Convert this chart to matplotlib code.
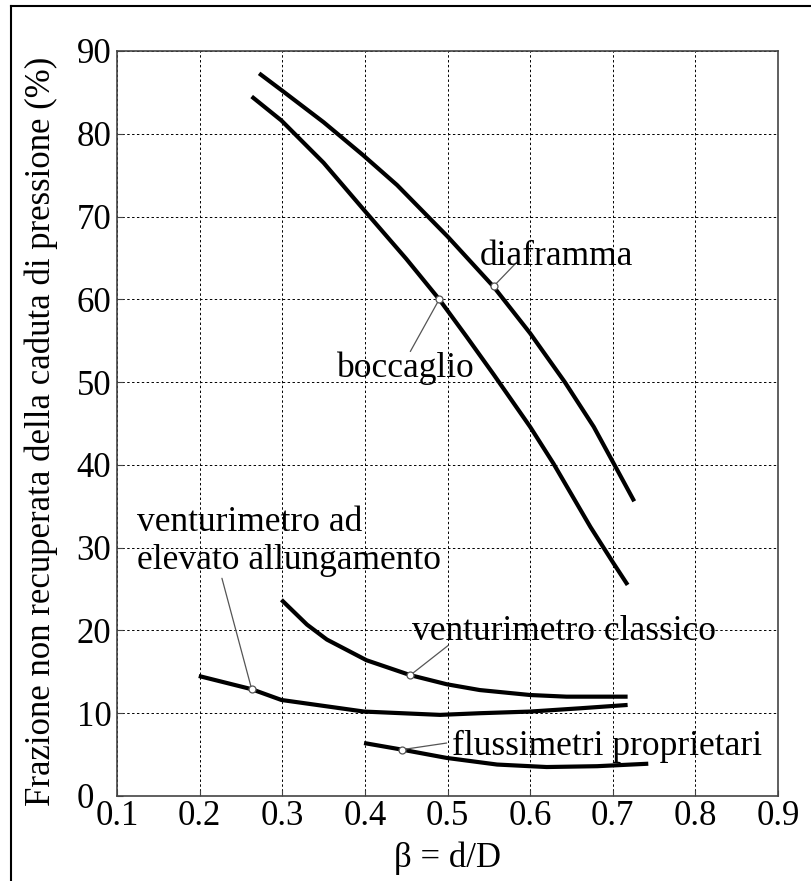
import matplotlib.pyplot as plt
from matplotlib.lines import Line2D

plt.rcParams['font.family'] = ['Liberation Serif', 'DejaVu Serif']

# Curves
diaframma_x = [0.272, 0.300, 0.350, 0.398, 0.439, 0.500, 0.556, 0.600, 0.642, 0.677, 0.701, 0.726]
diaframma_y = [87.3, 85.2, 81.4, 77.4, 73.8, 67.6, 61.5, 55.9, 50.0, 44.6, 40.2, 35.6]

boccaglio_x = [0.263, 0.299, 0.350, 0.398, 0.450, 0.490, 0.523, 0.556, 0.600, 0.628, 0.673, 0.701, 0.718]
boccaglio_y = [84.5, 81.6, 76.5, 70.9, 64.9, 60.0, 55.5, 50.9, 44.6, 40.2, 32.5, 28.1, 25.5]

classico_x = [0.299, 0.330, 0.354, 0.402, 0.455, 0.499, 0.539, 0.600, 0.644, 0.718]
classico_y = [23.7, 20.7, 18.9, 16.4, 14.6, 13.5, 12.8, 12.2, 12.0, 12.0]

allung_x = [0.199, 0.263, 0.299, 0.399, 0.491, 0.539, 0.600, 0.661, 0.718]
allung_y = [14.5, 12.9, 11.6, 10.2, 9.8, 10.0, 10.2, 10.6, 11.0]

fluss_x = [0.399, 0.445, 0.499, 0.560, 0.620, 0.681, 0.743]
fluss_y = [6.4, 5.6, 4.6, 3.8, 3.5, 3.6, 3.9]

x_ticks = [0.1, 0.2, 0.3, 0.4, 0.5, 0.6, 0.7, 0.8, 0.9]
y_ticks = [0, 10, 20, 30, 40, 50, 60, 70, 80, 90]

# labels: text, text anchor (left, baseline), point on curve, end of leader
labels = ["diaframma", "boccaglio", "venturimetro ad\nelevato allungamento",
          "venturimetro classico", "flussimetri proprietari"]
label_pos = [(0.5395, 64.1), (0.366, 50.6), (0.1242, 27.4), (0.4567, 18.8), (0.505, 4.95)]
mark_pts = [(0.556, 61.6), (0.490, 60.0), (0.263, 12.9), (0.455, 14.6), (0.445, 5.6)]
leader_end = [(0.584, 64.5), (0.455, 53.7), (0.227, 26.3), (0.501, 18.2), (0.499, 6.4)]

fig = plt.figure(figsize=(8.11, 8.81), dpi=100)
ax = fig.add_axes([117 / 811, 1 - 796 / 881, 661 / 811, 745 / 881])

# outer frame (only left and top edges visible)
fig.add_artist(Line2D([11 / 811, 11 / 811], [0, 1 - 6 / 881], transform=fig.transFigure,
                      color="black", lw=1.5))
fig.add_artist(Line2D([11 / 811, 1], [1 - 6 / 881, 1 - 6 / 881], transform=fig.transFigure,
                      color="black", lw=1.5))

for xs, ys in [(diaframma_x, diaframma_y), (boccaglio_x, boccaglio_y),
               (classico_x, classico_y), (allung_x, allung_y), (fluss_x, fluss_y)]:
    ax.plot(xs, ys, color="black", lw=3, solid_capstyle="butt",
            solid_joinstyle="round", zorder=3)

for txt, pos, pt, end in zip(labels, label_pos, mark_pts, leader_end):
    ax.annotate("", xy=pt, xytext=end,
                arrowprops=dict(arrowstyle="-", color="#555555", lw=0.9,
                                shrinkA=0, shrinkB=2))
    ax.plot(*pt, marker="o", ms=5, mfc="white", mec="#555555", mew=0.9, zorder=4)
    ax.text(pos[0], pos[1], txt, fontsize=25.5, ha="left", va="baseline", zorder=5)

ax.set_xlim(0.1, 0.9)
ax.set_ylim(0, 90)
ax.set_xticks(x_ticks)
ax.set_yticks(y_ticks)
ax.set_xticklabels([f"{v:.1f}" for v in x_ticks])
ax.set_yticklabels([str(v) for v in y_ticks], ha="left")
ax.tick_params(direction="in", length=4, labelsize=25, color="#444444")
ax.tick_params(axis="y", pad=29)
ax.tick_params(axis="x", pad=3)

ax.grid(True, color="black", linestyle=(0, (2.5, 2.5)), linewidth=0.7)
for s in ax.spines.values():
    s.set_color("#444444")
    s.set_linewidth(1.2)

ax.set_xlabel("β = d/D", fontsize=25)
ax.xaxis.set_label_coords(0.5, -0.083)
ax.xaxis.label.set_va("center")
ax.set_ylabel("Frazione non recuperata della caduta di pressione (%)", fontsize=25)
ax.yaxis.set_label_coords(-0.115, 0.49)
ax.yaxis.label.set_va("center")

fig.savefig("out.png", dpi=100)
